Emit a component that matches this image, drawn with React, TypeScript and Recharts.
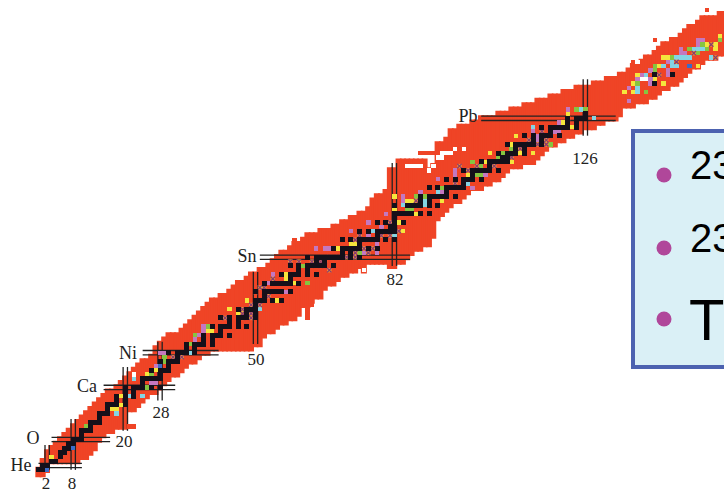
import {
  Bar,
  ComposedChart,
  ReferenceArea,
  ReferenceDot,
  ReferenceLine,
  Scatter,
  XAxis,
  YAxis,
} from "recharts"

const WIDTH = 724
const HEIGHT = 494

// chart of the nuclides: one column per neutron number N, from N = 0
const bandLow = [
  0, 0, 1, 3, 3, 3, 3, 3, 3, 3,
  4, 4, 5, 6, 8, 9, 10, 10, 11, 11,
  11, 15, 15, 16, 17, 18, 19, 19, 20, 21,
  22, 23, 23, 24, 25, 26, 26, 27, 28, 28,
  29, 29, 29, 29, 29, 29, 29, 29, 29, 29,
  30, 30, 32, 33, 33, 34, 35, 35, 36, 36,
  37, 39, 39, 40, 41, 41, 43, 44, 44, 45,
  46, 46, 47, 47, 48, 47, 49, 49, 49, 49,
  49, 48, 48, 49, 49, 50, 51, 52, 52, 53,
  53, 55, 59, 60, 61, 62, 63, 63, 64, 65,
  66, 66, 66, 67, 67, 68, 68, 69, 70, 71,
  71, 71, 72, 72, 72, 73, 74, 75, 76, 76,
  77, 77, 78, 78, 79, 79, 80, 80, 80, 81,
  81, 82, 82, 82, 83, 85, 85, 85, 86, 86,
  86, 87, 87, 88, 89, 89, 90, 90, 91, 92,
  93, 94, 94, 95, 96, 96, 96, 97, 97,
]
const bandHigh = [
  1, 3, 5, 6, 7, 8, 9, 10, 11, 12,
  13, 14, 15, 16, 17, 18, 19, 19, 20, 21,
  22, 23, 24, 25, 26, 26, 27, 29, 30, 31,
  32, 32, 32, 33, 34, 35, 36, 37, 38, 39,
  40, 40, 41, 41, 42, 43, 44, 44, 45, 46,
  46, 47, 47, 48, 49, 50, 51, 51, 52, 53,
  53, 54, 55, 55, 55, 56, 56, 56, 57, 57,
  58, 58, 59, 59, 60, 60, 61, 63, 64, 64,
  65, 70, 70, 72, 72, 72, 72, 72, 72, 72,
  70, 71, 76, 76, 77, 79, 79, 80, 80, 80,
  81, 81, 82, 82, 82, 82, 83, 83, 83, 84,
  84, 84, 85, 85, 85, 86, 86, 86, 87, 87,
  87, 88, 88, 88, 89, 89, 89, 89, 90, 90,
  90, 91, 91, 91, 92, 92, 93, 94, 94, 95,
  96, 96, 97, 98, 99, 99, 100, 100, 101, 102,
  103, 103, 104, 105, 105, 105, 105, 106, 106,
]

const redIslands = [
  [21, 11], [22, 11], [59, 54], [62, 36], [62, 37], [62, 38], [63, 39],
  [88, 74], [89, 74], [90, 74], [91, 74], [92, 74],
  [137, 95], [139, 95], [142, 100], [154, 107],
]
const whiteCells = [
  [22, 23], [75, 47], [85, 71], [86, 71], [87, 71], [88, 71], [90, 70], [91, 71],
  [92, 73], [93, 73], [93, 74], [94, 74], [95, 74], [96, 75], [98, 75],
  [138, 95], [139, 91], [140, 91],
]

// stable isotopes: Z followed by its neutron numbers
const stableRows = [
  [1, 0, 1], [2, 1, 2], [3, 3, 4], [4, 5], [5, 5, 6], [6, 6, 7], [7, 7, 8], [8, 8, 9, 10],
  [9, 10], [10, 10, 11, 12], [11, 12], [12, 12, 13, 14], [13, 14], [14, 14, 15, 16], [15, 16],
  [16, 16, 17, 18, 20], [17, 18, 20], [18, 18, 20, 22], [19, 20, 22], [20, 20, 22, 23, 24, 26, 28],
  [21, 24], [22, 24, 25, 26, 27, 28], [23, 28], [24, 26, 28, 29, 30], [25, 30], [26, 28, 30, 31, 32],
  [27, 32], [28, 30, 32, 33, 34, 36], [29, 34, 36], [30, 34, 36, 37, 38, 40], [31, 38, 40],
  [32, 38, 40, 41, 42, 44], [33, 42], [34, 40, 42, 43, 44, 46, 48], [35, 44, 46],
  [36, 42, 44, 46, 47, 48, 50], [37, 48, 50], [38, 46, 48, 49, 50], [39, 50],
  [40, 50, 51, 52, 54, 56], [41, 52], [42, 50, 52, 53, 54, 55, 56, 58],
  [44, 52, 54, 55, 56, 57, 58, 60], [45, 58], [46, 56, 58, 59, 60, 62, 64], [47, 60, 62],
  [48, 58, 60, 62, 63, 64, 65, 66, 68], [49, 64, 66], [50, 62, 64, 65, 66, 67, 68, 69, 70, 72, 74],
  [51, 70, 72], [52, 68, 70, 71, 72, 73, 74, 76, 78], [53, 74], [54, 70, 72, 74, 75, 76, 77, 78, 80, 82],
  [55, 78], [56, 74, 76, 78, 79, 80, 81, 82], [57, 81, 82], [58, 78, 80, 82, 84], [59, 82],
  [60, 82, 83, 84, 85, 86, 88, 90], [62, 82, 85, 86, 87, 88, 90, 92], [63, 88, 90],
  [64, 88, 90, 91, 92, 93, 94, 96], [65, 94], [66, 90, 92, 94, 95, 96, 97, 98], [67, 98],
  [68, 94, 96, 98, 99, 100, 102], [69, 100], [70, 98, 100, 101, 102, 103, 104, 106], [71, 104],
  [72, 102, 104, 105, 106, 107, 108], [73, 107, 108], [74, 106, 108, 109, 110, 112], [75, 110, 112],
  [76, 108, 110, 111, 112, 113, 114, 116], [77, 114, 116], [78, 112, 114, 116, 117, 118, 120],
  [79, 118], [80, 116, 118, 119, 120, 121, 122, 124], [81, 122, 124], [82, 122, 124, 125, 126],
  [83, 126], [90, 142], [92, 142, 146],
]

const yellowCells = [
  [3, 4], [19, 18], [19, 16], [17, 15], [18, 15], [25, 23], [27, 24], [40, 33], [39, 33], [44, 38],
  [48, 40], [46, 37], [47, 37], [50, 38], [57, 46], [57, 45], [59, 44], [54, 40], [55, 40], [69, 52], [72, 53],
  [73, 53], [84, 56], [83, 58], [82, 64], [82, 61], [85, 63], [86, 63], [87, 60], [93, 63], [99, 69],
  [103, 72], [104, 74], [106, 74], [109, 72], [109, 76], [110, 78], [111, 74], [114, 74], [121, 81],
  [122, 83], [123, 80], [135, 88], [137, 88], [137, 90], [138, 92], [143, 94], [142, 91], [144, 90], [144, 96],
  [145, 96], [152, 94], [154, 99], [156, 99], [156, 98], [157, 101],
]
const greenCells = [
  [11, 11], [25, 20], [26, 23], [29, 27], [29, 26], [35, 30], [36, 32], [39, 34], [62, 44], [61, 48], [71, 52],
  [74, 51], [82, 58], [82, 62], [85, 61], [86, 61], [87, 64], [89, 64], [93, 66], [101, 69], [102, 69], [102, 71],
  [100, 72], [106, 73], [107, 74], [109, 75], [118, 76], [124, 84], [126, 84], [138, 90], [140, 88],
  [142, 94], [142, 93], [146, 96], [152, 97], [150, 98], [154, 98], [153, 99], [157, 100],
]
const purpleCells = [
  [28, 28], [29, 28], [26, 21], [27, 21], [27, 25], [36, 31], [37, 32], [38, 33], [38, 34], [53, 44],
  [54, 46], [57, 42], [64, 52], [66, 52], [67, 52], [72, 56], [75, 51], [76, 56], [76, 58], [76, 55], [78, 51], [78, 53],
  [80, 60], [79, 57], [84, 64], [84, 63], [88, 65], [92, 68], [93, 65], [96, 70], [96, 69], [100, 66], [103, 69],
  [114, 79], [115, 78], [115, 77], [119, 79], [120, 79], [120, 81], [119, 80], [122, 84], [136, 86], [136, 89],
  [138, 91], [139, 92], [141, 93], [141, 91], [141, 90], [145, 93], [145, 92], [145, 95], [148, 97], [149, 97],
  [148, 98], [152, 100], [153, 100], [152, 99],
]
const cyanCells = [
  [22, 22], [21, 18], [24, 18], [18, 14], [35, 28], [51, 38], [65, 48], [77, 56], [82, 55], [84, 62],
  [89, 63], [89, 62], [92, 65], [99, 67], [106, 72], [114, 80], [125, 84], [128, 82], [138, 89], [138, 88],
  [140, 92], [144, 94], [146, 95], [147, 94], [146, 94], [147, 96], [148, 96], [149, 96], [150, 96],
  [151, 98], [152, 98], [153, 98], [155, 96],
]
const blueCells = [[2, 1], [8, 6], [28, 25], [50, 37], [150, 94]]
const mixedCells = [
  [31, 27], [33, 27], [42, 36], [44, 35], [44, 34], [43, 36], [49, 39], [49, 38], [49, 37], [49, 36], [47, 38], [47, 37], [47, 36],
  [50, 42], [51, 43], [51, 39], [52, 41], [52, 43], [53, 41], [54, 45], [58, 49], [60, 49], [62, 48], [62, 50], [63, 48], [63, 49],
  [65, 48], [65, 49], [66, 49], [67, 47], [67, 50], [69, 50], [71, 50], [71, 52], [73, 50], [73, 51], [73, 54], [74, 52], [74, 55], [74, 56],
  [75, 52], [75, 54], [76, 51], [77, 52], [77, 54], [79, 55], [79, 56], [81, 55], [81, 56], [81, 58], [83, 56], [87, 63], [96, 67], [99, 70],
  [97, 71], [101, 71], [107, 72], [108, 72], [105, 71], [106, 70], [109, 73], [111, 75], [113, 76], [113, 77], [114, 76], [114, 77],
  [115, 76], [116, 76], [116, 77], [117, 76], [117, 77], [116, 79], [118, 79], [122, 82], [125, 82], [143, 92], [147, 95], [151, 97],
  [155, 99], [156, 96],
]

// magic numbers: value, and the span of its double line
const magicN = [2, 8, 20, 28, 50, 82, 126]
const magicNFrom = [1, 1, 10, 17, 30, 48, 78]
const magicNTo = [6.7, 12.7, 24.7, 30.5, 46.6, 71.7, 91]
const magicZ = [2, 8, 20, 28, 50, 82]
const magicZFrom = [0, 3, 15, 24, 51, 102]
const magicZTo = [10, 16.5, 31.5, 41.5, 85.6, 133]

const nLabels = ["2", "8", "20", "28", "50", "82", "126"]
const nLabelX = [46, 72, 124, 161, 256, 395, 585]
const nLabelY = [483, 483, 441, 412, 359, 279, 158]
const zLabels = ["He", "O", "Ca", "Ni", "Sn", "Pb"]
const zLabelX = [21, 33, 87, 128, 247, 468]
const zLabelY = [465, 438, 386, 353, 256, 116]

const bulletY = [175, 248, 319]
const boxTexts = ["23", "23", "T"]
const boxTextY = [179, 252, 340]
const boxTextSize = [40, 40, 58]

// the picture's pixel grid, used to place the annotations
const nAt = (px: number) => (px - 38.5) / 4.34
const zAt = (py: number) => (474.2 - py) / 4.34
const CELL = 4.34

const bandData = bandLow.map((low, i) => ({
  n: i,
  band: [low - 0.5, bandHigh[i] + 0.5],
}))
const toCells = (list: number[][]) => list.map(([n, z]) => ({ n, z }))
const stableCells = stableRows.flatMap(([z, ...ns]) => ns.map((n) => ({ n, z })))

function square(fill: string, size = CELL) {
  return (p: any) => (
    <rect
      x={p.cx - size / 2}
      y={p.cy - size / 2}
      width={size}
      height={size}
      fill={fill}
      shapeRendering="crispEdges"
    />
  )
}

function crossCell(p: any) {
  const d = CELL / 2
  return (
    <g>
      <rect x={p.cx - d} y={p.cy - d} width={CELL} height={CELL} fill="#f0a030" />
      <path
        d={`M${p.cx - d} ${p.cy - d}L${p.cx + d} ${p.cy + d}M${p.cx + d} ${p.cy - d}L${p.cx - d} ${p.cy + d}`}
        stroke="#8a3a70"
        strokeWidth={1.3}
      />
    </g>
  )
}

function label(text: string, size: number, family: string, anchor: string, fill = "#222") {
  return (p: any) => (
    <text
      x={p.cx}
      y={p.cy}
      fontSize={size}
      fontFamily={family}
      textAnchor={anchor as any}
      dominantBaseline={anchor === "middle" ? "central" : "auto"}
      fill={fill}
    >
      {text}
    </text>
  )
}

const SERIF = "'Liberation Serif', serif"
const SANS = "'Liberation Sans', sans-serif"

export default function App() {
  return (
    <div style={{ position: "absolute", left: 0, top: 0, width: WIDTH, height: HEIGHT, overflow: "hidden", background: "#fff" }}>
      <ComposedChart
        width={WIDTH}
        height={HEIGHT}
        data={bandData}
        margin={{ top: 0, right: 0, bottom: 0, left: 0 }}
      >
        <XAxis type="number" dataKey="n" domain={[nAt(0), nAt(WIDTH)]} allowDataOverflow hide />
        <YAxis type="number" domain={[zAt(HEIGHT), zAt(0)]} allowDataOverflow hide />

        <Bar
          dataKey="band"
          fill="#ef4426"
          stroke="#ef4426"
          strokeWidth={2}
          barSize={4}
          isAnimationActive={false}
        />
        <Scatter data={toCells(redIslands)} dataKey="z" shape={square("#ef4426")} isAnimationActive={false} />
        <Scatter data={toCells(whiteCells)} dataKey="z" shape={square("#ffffff")} isAnimationActive={false} />
        <Scatter data={toCells(yellowCells)} dataKey="z" shape={square("#f5e63c")} isAnimationActive={false} />
        <Scatter data={toCells(greenCells)} dataKey="z" shape={square("#86c440")} isAnimationActive={false} />
        <Scatter data={toCells(purpleCells)} dataKey="z" shape={square("#c478c0")} isAnimationActive={false} />
        <Scatter data={toCells(cyanCells)} dataKey="z" shape={square("#84d4e4")} isAnimationActive={false} />
        <Scatter data={toCells(blueCells)} dataKey="z" shape={square("#3c6cc8")} isAnimationActive={false} />
        <Scatter data={toCells(mixedCells)} dataKey="z" shape={crossCell} isAnimationActive={false} />
        <Scatter data={stableCells} dataKey="z" shape={square("#14101a", 5)} isAnimationActive={false} />

        {magicN.flatMap((n, i) =>
          [-0.5, 0.5].map((d) => (
            <ReferenceLine
              key={`n${n}${d}`}
              segment={[{ x: n + d, y: magicNFrom[i] }, { x: n + d, y: magicNTo[i] }]}
              stroke="#222"
              strokeWidth={1.3}
            />
          ))
        )}
        {magicZ.map((z, i) =>
          [-0.5, 0.5].map((d) => (
            <ReferenceLine
              key={`z${z}${d}`}
              segment={[{ x: magicZFrom[i], y: z + d }, { x: magicZTo[i], y: z + d }]}
              stroke="#222"
              strokeWidth={1.3}
            />
          ))
        )}

        {nLabels.map((t, i) => (
          <ReferenceDot key={`nl${t}`} x={nAt(nLabelX[i])} y={zAt(nLabelY[i])} shape={label(t, 17, SERIF, "middle")} />
        ))}
        {zLabels.map((t, i) => (
          <ReferenceDot key={`zl${t}`} x={nAt(zLabelX[i])} y={zAt(zLabelY[i])} shape={label(t, 18, SERIF, "middle")} />
        ))}

        <ReferenceArea
          x1={nAt(633)}
          x2={nAt(740)}
          y1={zAt(367)}
          y2={zAt(131)}
          fill="#daf0f6"
          fillOpacity={1}
          stroke="#4c62b0"
          strokeWidth={4}
          ifOverflow="hidden"
        />
        {bulletY.map((y, i) => (
          <ReferenceDot key={`b${i}`} x={nAt(664)} y={zAt(y)} r={7.5} fill="#b0479a" stroke="none" />
        ))}
        {boxTexts.map((t, i) => (
          <ReferenceDot
            key={`t${i}`}
            x={nAt(i === 2 ? 689 : 690)}
            y={zAt(boxTextY[i])}
            shape={label(t, boxTextSize[i], SANS, "start", "#000")}
          />
        ))}
      </ComposedChart>
    </div>
  )
}
